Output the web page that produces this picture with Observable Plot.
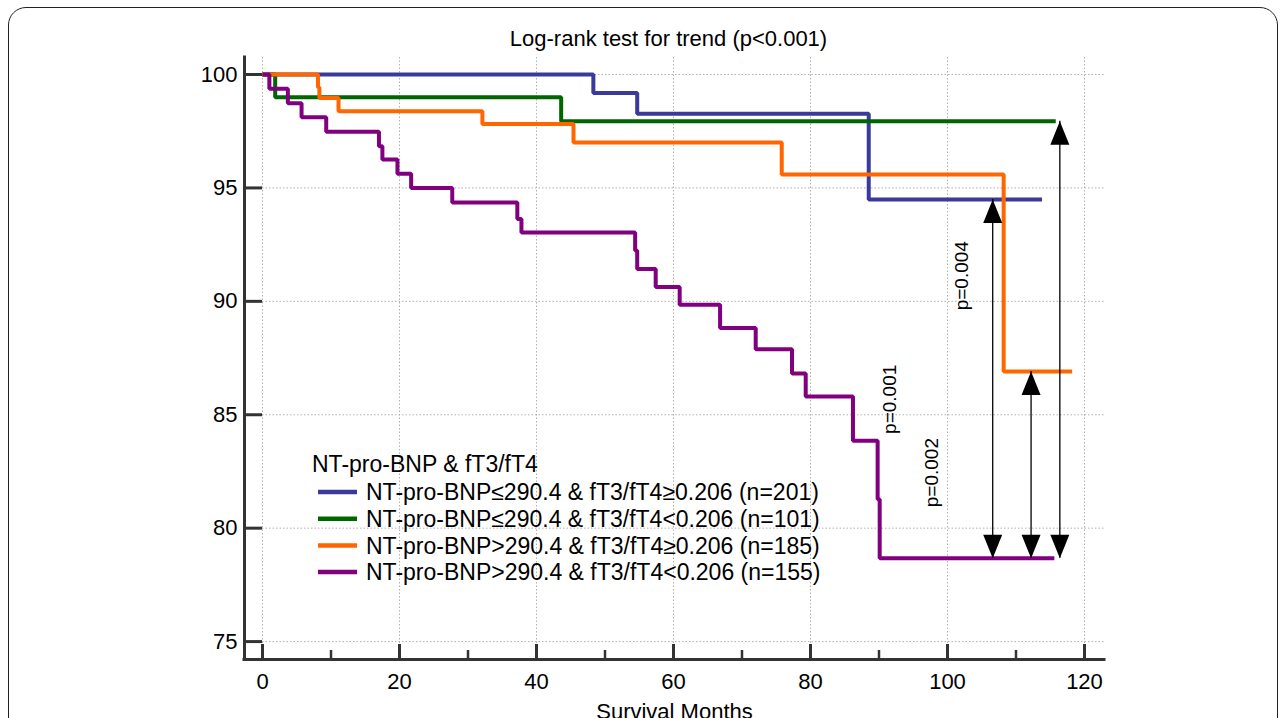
<!DOCTYPE html>
<html><head><meta charset="utf-8">
<script src="https://cdn.jsdelivr.net/npm/d3@7"></script>
<script src="https://cdn.jsdelivr.net/npm/@observablehq/plot@0.6"></script>
<style>
html,body{margin:0;padding:0;background:#fff;}
#wrap{position:relative;width:1287px;height:718px;overflow:hidden;}
#border{position:absolute;left:8px;top:7px;width:1268px;height:800px;border:1.6px solid #222;border-radius:18px;pointer-events:none;}
</style></head><body><div id="wrap"><div id="border"></div></div>
<script>
// ---- data ----
const groupNames = [
  "NT-pro-BNP≤290.4 & fT3/fT4≥0.206 (n=201)",
  "NT-pro-BNP≤290.4 & fT3/fT4<0.206 (n=101)",
  "NT-pro-BNP>290.4 & fT3/fT4≥0.206 (n=185)",
  "NT-pro-BNP>290.4 & fT3/fT4<0.206 (n=155)"
];
const groupColors = ["#393a9b", "#006600", "#ff6600", "#800080"];
const legendTitle = "NT-pro-BNP & fT3/fT4";
const title = "Log-rank test for trend (p<0.001)";
const xLabel = "Survival Months";

const blueTime = [0, 48.3, 54.7, 88.5, 113.8];
const blueSurv = [100, 99.18, 98.27, 94.49, 94.49];
const greenTime = [0, 1.85, 43.6, 115.8];
const greenSurv = [100, 99.0, 97.94, 97.94];
const orangeTime = [0, 8.1, 8.3, 11.1, 32.1, 45.4, 75.8, 108.2, 118.2];
const orangeSurv = [100, 99.44, 98.96, 98.38, 97.82, 97.0, 95.59, 86.91, 86.91];
const purpleTime = [0, 1.0, 3.7, 5.7, 9.3, 17.0, 17.5, 19.7, 21.7, 27.7, 37.2, 37.8, 54.4, 54.7, 57.4, 60.9, 66.8, 72.0, 77.3, 79.3, 86.2, 89.8, 90.1, 115.6];
const purpleSurv = [100, 99.37, 98.73, 98.12, 97.48, 96.84, 96.25, 95.62, 95.0, 94.36, 93.63, 93.03, 92.24, 91.43, 90.63, 89.85, 88.82, 87.89, 86.82, 85.8, 83.85, 81.27, 78.67, 78.67];

const arrowX = [106.6, 112.2, 116.4];
const arrowTop = [94.49, 86.91, 97.94];
const arrowBottom = [78.67, 78.67, 78.67];

const pLabelText = ["p=0.004", "p=0.001", "p=0.002"];
const pLabelX = [102.1, 91.6, 97.75];
const pLabelY = [91.13, 85.68, 82.45];

const xMajor = [0, 20, 40, 60, 80, 100, 120];
const xMinor = [10, 30, 50, 70, 90, 110];
const yTicks = [75, 80, 85, 90, 95, 100];

// ---- build tables ----
const series = [[blueTime, blueSurv], [greenTime, greenSurv], [orangeTime, orangeSurv], [purpleTime, purpleSurv]];
const rows = series.flatMap(([t, s], i) => t.map((tt, j) => ({group: groupNames[i], time: tt, surv: s[j]})));
const arrows = arrowX.map((x, i) => ({x, top: arrowTop[i], bottom: arrowBottom[i]}));
const pLabels = pLabelText.map((label, i) => ({label, x: pLabelX[i], y: pLabelY[i]}));

const FONT = '"Liberation Sans", Arial, Helvetica, sans-serif';
const W = 1287, H = 718, mL = 244, mR = 183, mT = 57, mB = 59;
const frameW = W - mL - mR, frameH = H - mT - mB;
const xDomain = [-2.63, 122.92], yDomain = [74.21, 100.75];

const triUp = {draw(ctx) { ctx.moveTo(0, 0); ctx.lineTo(-9.5, 23.5); ctx.lineTo(9.5, 23.5); ctx.closePath(); }};
const triDown = {draw(ctx) { ctx.moveTo(0, 0); ctx.lineTo(-9.5, -23.5); ctx.lineTo(9.5, -23.5); ctx.closePath(); }};

const axisColor = "#333";
const gridStyle = {stroke: "#b0b0b0", strokeWidth: 1, strokeDasharray: "1.5,2"};

const chart = Plot.plot({
  width: W, height: H,
  marginLeft: mL, marginRight: mR, marginTop: mT, marginBottom: mB,
  style: {fontFamily: FONT, fontSize: "22px", background: "transparent", color: "#000"},
  x: {domain: xDomain},
  y: {domain: yDomain},
  color: {domain: groupNames, range: groupColors},
  marks: [
    Plot.ruleX(xMajor, {x: d => d, ...gridStyle}),
    Plot.ruleY(yTicks, {y: d => d, insetLeft: 18, ...gridStyle}),
    Plot.line(rows, {x: "time", y: "surv", stroke: "group", z: "group", curve: "step-after", strokeWidth: 4, strokeLinejoin: "miter", strokeLinecap: "butt"}),
    Plot.ruleX(arrows, {x: "x", y1: "top", y2: "bottom", stroke: "#000", strokeWidth: 1.3}),
    Plot.dot(arrows, {x: "x", y: "top", symbol: triUp, fill: "#000", stroke: "none", r: 5}),
    Plot.dot(arrows, {x: "x", y: "bottom", symbol: triDown, fill: "#000", stroke: "none", r: 5}),
    Plot.text(pLabels, {x: "x", y: "y", text: "label", rotate: -90, fontSize: 19, fill: "#000"}),
    Plot.ruleX([xDomain[0]], {x: d => d, stroke: axisColor, strokeWidth: 3, strokeLinecap: "square"}),
    Plot.ruleY([yDomain[0]], {y: d => d, stroke: axisColor, strokeWidth: 3, strokeLinecap: "square"}),
    Plot.ruleX(xMajor, {x: d => d, insetTop: frameH - 15, stroke: axisColor, strokeWidth: 3}),
    Plot.ruleX(xMinor, {x: d => d, insetTop: frameH - 9, stroke: axisColor, strokeWidth: 2.5}),
    Plot.ruleY(yTicks, {y: d => d, insetRight: frameW - 18, stroke: axisColor, strokeWidth: 3}),
    Plot.axisX({ticks: xMajor, tickSize: 0, tickPadding: 14, fontSize: 22, label: null}),
    Plot.axisY({ticks: yTicks, tickSize: 0, tickPadding: 7, fontSize: 22, label: null}),
    Plot.text([title], {frameAnchor: "top", dx: -6, dy: -27, lineAnchor: "top", fontSize: 22}),
    Plot.text([xLabel], {frameAnchor: "bottom", dy: 44, lineAnchor: "top", fontSize: 22})
  ]
});

// legend
const svg = d3.select(chart);
const lg = svg.append("g")
  .attr("font-family", FONT).attr("font-size", 23).attr("fill", "#000")
  .attr("text-anchor", "start").style("text-anchor", "start");
lg.append("text").attr("x", 312).attr("y", 472).attr("text-anchor", "start").text(legendTitle);
groupNames.forEach((g, i) => {
  const yc = 492 + i * 26.7;
  lg.append("line").attr("x1", 318).attr("x2", 357).attr("y1", yc).attr("y2", yc)
    .attr("stroke", groupColors[i]).attr("stroke-width", 4.5);
  lg.append("text").attr("x", 366).attr("y", yc + 8.3).attr("text-anchor", "start").text(g);
});

document.getElementById("wrap").prepend(chart);
</script>
</body></html>
